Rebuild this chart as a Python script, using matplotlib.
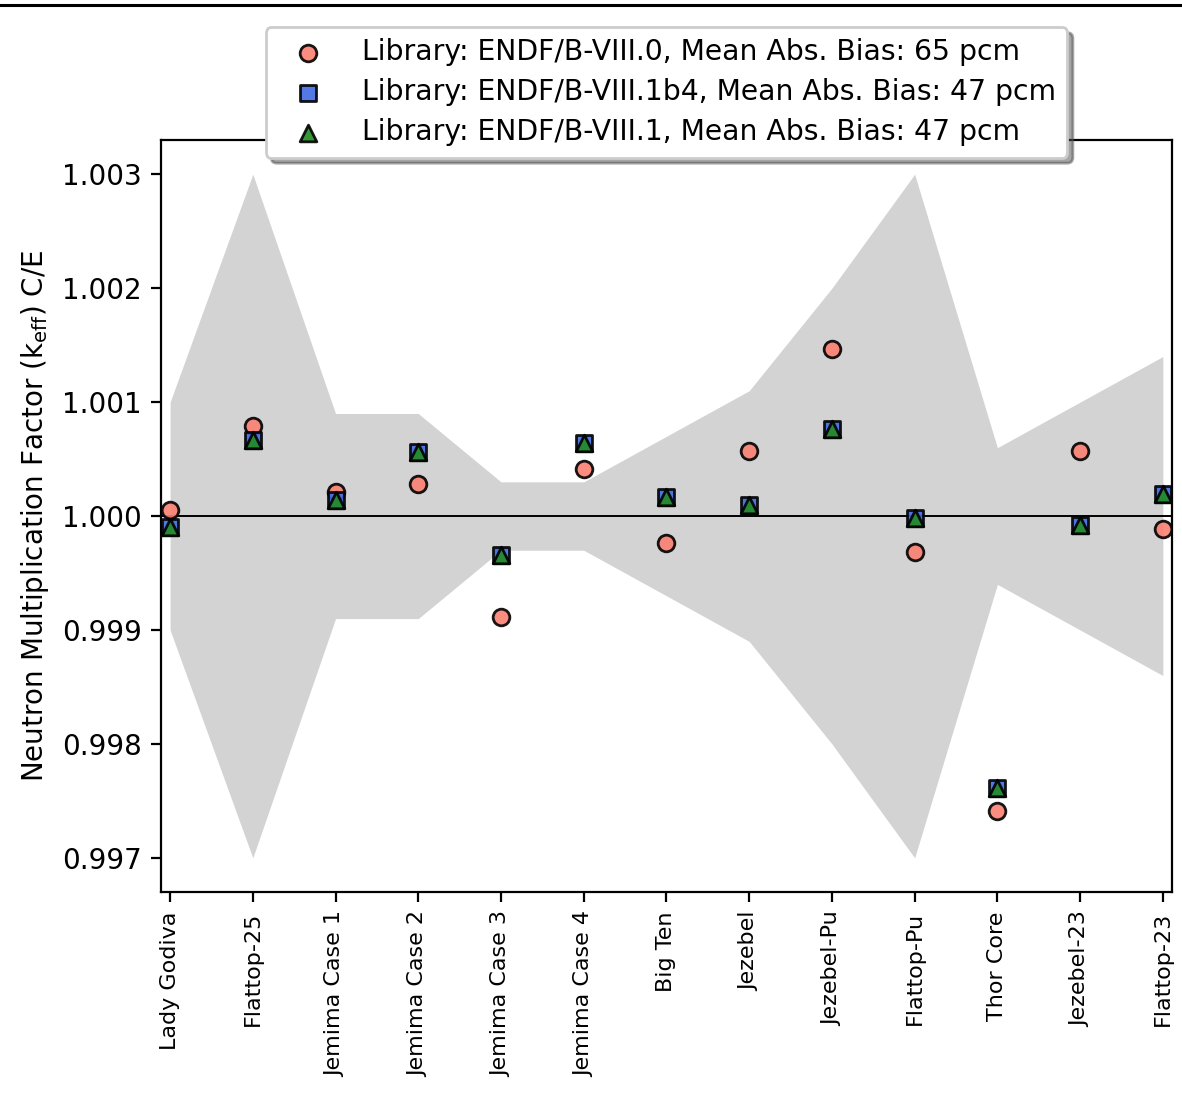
import matplotlib
matplotlib.use('Agg')
import matplotlib.pyplot as plt
from matplotlib.ticker import FormatStrFormatter, MultipleLocator
from matplotlib.lines import Line2D
import numpy as np

benchmarks = ['Lady Godiva', 'Flattop-25', 'Jemima Case 1', 'Jemima Case 2', 'Jemima Case 3',
              'Jemima Case 4', 'Big Ten', 'Jezebel', 'Jezebel-Pu', 'Flattop-Pu', 'Thor Core',
              'Jezebel-23', 'Flattop-23']
# experimental uncertainty (1 sigma) on keff
expUnc = [0.0010, 0.0030, 0.0009, 0.0009, 0.0003, 0.0003, 0.0007, 0.0011, 0.0020, 0.0030,
          0.0006, 0.0010, 0.0014]
# C/E values per library
ce_b80 = [1.00005, 1.00079, 1.00021, 1.00028, 0.99911, 1.00041, 0.99976, 1.00057, 1.00147,
          0.99968, 0.99741, 1.00057, 0.99989]
ce_b81b4 = [0.99990, 1.00067, 1.00014, 1.00056, 0.99966, 1.00064, 1.00017, 1.00010, 1.00076,
            0.99998, 0.99761, 0.99992, 1.00019]
ce_b81 = [0.99990, 1.00067, 1.00014, 1.00056, 0.99966, 1.00064, 1.00017, 1.00010, 1.00076,
          0.99998, 0.99761, 0.99992, 1.00019]
libraries = ['ENDF/B-VIII.0', 'ENDF/B-VIII.1b4', 'ENDF/B-VIII.1']
meanBias = [65, 47, 47]

fig = plt.figure(figsize=(5.91, 5.505), dpi=200)
ax = fig.add_axes([0.1362, 0.1898, 0.8553, 0.6830])

x = np.arange(len(benchmarks))
unc = np.array(expUnc)
ax.fill_between(x, 1 - unc, 1 + unc, color='lightgray', linewidth=0)
ax.axhline(1.0, color='k', linewidth=0.7)

markers = ['o', 's', '^']
colors = ['salmon', 'royalblue', 'forestgreen']
for vals, lib, bias, m, c in zip([ce_b80, ce_b81b4, ce_b81], libraries, meanBias, markers, colors):
    ax.scatter(x, vals, marker=m, color=c, edgecolors='k', alpha=0.9, zorder=3,
               label=f'Library: {lib}, Mean Abs. Bias: {bias} pcm')

ax.set_xticks(x)
ax.set_xticklabels(benchmarks, rotation=90, fontsize=8)
ax.set_xlim(-0.11, 12.11)
ax.set_ylim(0.9967, 1.0033)
ax.yaxis.set_major_locator(MultipleLocator(0.001))
ax.yaxis.set_major_formatter(FormatStrFormatter('%.3f'))
ax.set_ylabel(r'Neutron Multiplication Factor (k$_{\mathrm{eff}}$) C/E')
ax.legend(loc='upper center', bbox_to_anchor=(0.5, 1.169), shadow=True, fontsize=10.2,
          handlelength=2.2, labelspacing=0.42)

# border line at the top of the figure
fig.add_artist(Line2D([0, 1], [1 - 4.5 / 1101, 1 - 4.5 / 1101], color='k', linewidth=1.1,
                      transform=fig.transFigure))

fig.savefig('out.png', dpi=200)
